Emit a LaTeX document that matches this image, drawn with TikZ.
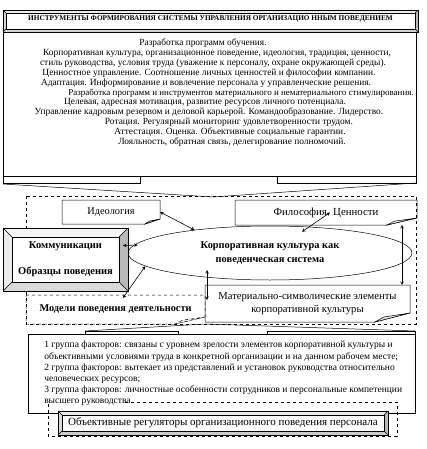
\documentclass[tikz,border=0pt]{standalone}
\usepackage{fontspec}
\setmainfont{Liberation Serif}
\usetikzlibrary{calc, shapes.geometric}

% raised frame round a node: depth, then top/right/bottom/left shades
\newcommand\bevelbox[6]{%
  \fill[#3] (#1.north west) -- (#1.north east) -- ([xshift=-#2pt,yshift=-#2pt]#1.north east) -- ([xshift=#2pt,yshift=-#2pt]#1.north west) -- cycle;
  \fill[#4] (#1.north east) -- (#1.south east) -- ([xshift=-#2pt,yshift=#2pt]#1.south east) -- ([xshift=-#2pt,yshift=-#2pt]#1.north east) -- cycle;
  \fill[#5] (#1.south east) -- (#1.south west) -- ([xshift=#2pt,yshift=#2pt]#1.south west) -- ([xshift=-#2pt,yshift=#2pt]#1.south east) -- cycle;
  \fill[#6] (#1.south west) -- (#1.north west) -- ([xshift=#2pt,yshift=-#2pt]#1.north west) -- ([xshift=#2pt,yshift=#2pt]#1.south west) -- cycle;
  \draw (#1.north west) rectangle (#1.south east);
  \draw ([xshift=#2pt,yshift=-#2pt]#1.north west) rectangle ([xshift=-#2pt,yshift=#2pt]#1.south east);
  \draw (#1.north west) -- ++(#2pt,-#2pt) (#1.north east) -- ++(-#2pt,-#2pt)
        (#1.south west) -- ++(#2pt,#2pt) (#1.south east) -- ++(-#2pt,#2pt);
}

% box with a folded lower right corner
\newcommand\foldbox[4][]{%
  \draw[#1] (#2.north west) -- (#2.north east) -- ([yshift=#4pt]#2.south east) -- ([xshift=-#3pt]#2.south east) -- (#2.south west) -- cycle;
  \draw[#1, fill=gray!20] ([yshift=#4pt]#2.south east) -- ([xshift=-#3pt]#2.south east) -- ([xshift={-0.75*#3pt},yshift={0.55*#4pt}]#2.south east) -- cycle;
}

\begin{document}
\begin{tikzpicture}[x=1pt, y=-1pt, line width=0.5pt,
    txt/.style={inner sep=0pt, font=\fontsize{9.4pt}{10pt}\selectfont},
    frame/.style={inner sep=0pt, outer sep=0pt},
    twoway/.style={stealth-stealth, line width=0.6pt}]

  \useasboundingbox (0,0) rectangle (426,449);

  % upper block with its pointer
  \node (instr) [frame, draw, minimum width=413pt, minimum height=144pt] at (209.5,104) {};
  \draw (3,176) rectangle (140,183) (277,176) rectangle (416,183);
  \draw (3,184) -- (213,197) -- (416,183);

  \node (title) [frame, fill=white, minimum width=415pt, minimum height=22pt,
    text height=5pt, text depth=5pt, font=\bfseries\fontsize{7.3pt}{8pt}\selectfont]
    at (210.5,21) {ИНСТРУМЕНТЫ ФОРМИРОВАНИЯ СИСТЕМЫ УПРАВЛЕНИЯ ОРГАНИЗАЦИО ННЫМ ПОВЕДЕНИЕМ};
  \bevelbox{title}{3}{gray!15}{gray!55}{gray!35}{gray!35}

  \foreach \cx/\by/\txt [count=\i] in {
      203/46/{Разработка программ обучения.},
      217/56/{Корпоративная культура, организационное поведение, идеология, традиция, ценности,},
      213/65.5/{стиль руководства, условия труда (уважение к персоналу, охране окружающей среды).},
      209/75.5/{Ценностное управление. Соотношение личных ценностей и философии компании.},
      206/85.5/{Адаптация. Информирование и вовлечение персонала у управленческие решения.},
      241/95.5/{\fontsize{9pt}{10pt}\selectfont Разработка программ и инструментов материального и нематериального стимулирования.},
      205/105/{Целевая, адресная мотивация, развитие ресурсов личного потенциала.},
      209/115/{Управление кадровым резервом и деловой карьерой. Командообразование.  Лидерство.},
      229/125/{Ротация. Регулярный мониторинг удовлетворенности трудом.},
      230/135/{Аттестация. Оценка. Объективные социальные гарантии.},
      232/145/{Лояльность, обратная связь, делегирование полномочий.}}
    \node (line\i) [txt, anchor=base] at (\cx,\by) {\txt};

  % middle block
  \draw[dashed] (26,196) rectangle (416,324);

  \node (ideo) [frame, minimum width=98pt, minimum height=24pt, font=\fontsize{10.3pt}{12pt}\selectfont]
    at (111,212) {Идеология};
  \foldbox{ideo}{15}{5}

  \node (filo) [frame, minimum width=182pt, minimum height=25pt, font=\fontsize{10.8pt}{12pt}\selectfont]
    at (326,212.5) {Философия. Ценности};
  \foldbox{filo}{30}{7}

  \node (kult) [draw, ellipse, minimum width=284pt, minimum height=54pt, inner sep=0pt, align=center,
    font=\bfseries\fontsize{10.4pt}{14pt}\selectfont] at (270,253)
    {Корпоративная культура как\\поведенческая система};

  \node (model) [frame, minimum width=179pt, minimum height=29pt, font=\bfseries\fontsize{10.3pt}{12pt}\selectfont]
    at (115.5,309.5) {Модели поведения деятельности};
  \foldbox[dashed]{model}{30}{7}

  \node (mat) [frame, minimum width=205pt, minimum height=37pt, align=center, font=\fontsize{10.6pt}{12.5pt}\selectfont]
    at (307.5,303.5) {Материально-символические элементы\\корпоративной культуры};
  \foldbox{mat}{35}{9}

  \node (komm) [frame, fill=white, minimum width=125pt, minimum height=63pt, align=center,
    font=\bfseries\fontsize{10.5pt}{26pt}\selectfont] at (65.5,259.5) {Коммуникации\\Образцы поведения};
  \bevelbox{komm}{9}{gray!8}{gray!55}{gray!30}{gray!15}

  % lower block with its pointer
  \node (fak) [frame, draw, minimum width=387pt, minimum height=79pt] at (221.5,373.5) {};
  \draw (85,331) rectangle (178,334) (267,331) rectangle (415,334);
  \draw (85,331) -- (205,324) -- (415,331);

  \draw[dashed] (125,402) -- (397,402) -- (397,436) -- (48,436) -- (48,402);

  \node (faktxt) [txt, anchor=north west, align=left, font=\fontsize{9.5pt}{11.2pt}\selectfont] at (44,341)
    {1 группа факторов: связаны с уровнем зрелости элементов корпоративной культуры и\\
     объективными условиями труда в конкретной  организации и на данном рабочем месте;\\
     2 группа факторов: вытекает из представлений и установок руководства относительно\\
     человеческих ресурсов;\\
     3 группа факторов: личностные особенности сотрудников  и персональные компетенции\\
     высшего руководства};

  \node (objreg) [frame, fill=white, minimum width=330pt, minimum height=24pt, font=\fontsize{11pt}{12pt}\selectfont]
    at (223,423) {Объективные регуляторы организационного поведения персонала};
  \bevelbox{objreg}{4}{gray!15}{gray!55}{gray!40}{gray!30}

  % links
  \draw[twoway] (ideo.east) -- (kult.163);
  \draw[twoway] ([xshift=4pt]filo.center) -- ([xshift=32pt,yshift=-6pt]kult.north);
  \draw[twoway] ([xshift=-15pt]filo.south east) -- ([xshift=-15pt]filo.south east |- mat.north);
  \draw[twoway] ([xshift=-5pt,yshift=14pt]komm.east) -- ([xshift=10pt,yshift=8pt]kult.west);
  \draw[twoway] ([xshift=-5pt,yshift=-7pt]komm.south east) -- (kult.186);
  \draw[twoway] ([xshift=2pt,yshift=15pt]mat.north west) -- ([xshift=2pt,yshift=-15pt]mat.north west);
\end{tikzpicture}
\end{document}
